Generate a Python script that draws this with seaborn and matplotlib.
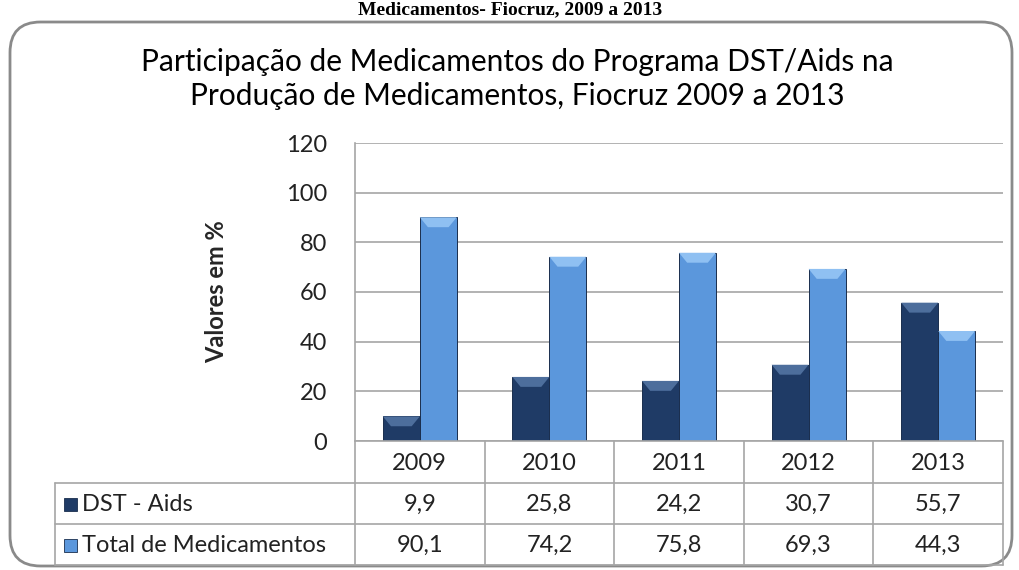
import matplotlib
matplotlib.use("Agg")
import matplotlib.pyplot as plt
from matplotlib.patches import FancyBboxPatch, Rectangle, Polygon
import seaborn as sns
import pandas as pd

years = ["2009", "2010", "2011", "2012", "2013"]
series_names = ["DST - Aids", "Total de Medicamentos"]
dst_aids = [9.9, 25.8, 24.2, 30.7, 55.7]
total_med = [90.1, 74.2, 75.8, 69.3, 44.3]
dst_labels = ["9,9", "25,8", "24,2", "30,7", "55,7"]
total_labels = ["90,1", "74,2", "75,8", "69,3", "44,3"]
yticks = [0, 20, 40, 60, 80, 100, 120]

title_text = "Participação de Medicamentos do Programa DST/Aids na\nProdução de Medicamentos, Fiocruz 2009 a 2013"
cut_title = "Medicamentos- Fiocruz, 2009 a 2013"
ylabel_text = "Valores em %"

colors = ["#1f3b66", "#5b97dc"]
FONT = "Lato"

sns.set_theme(style="white")
plt.rcParams["font.family"] = [FONT, "DejaVu Sans"]

W, H = 1019, 570
fig = plt.figure(figsize=(W / 100, H / 100), dpi=100)
fig.patch.set_facecolor("white")

# rounded frame
frame = FancyBboxPatch((10 / W, 4 / H), (1012 - 10) / W, (548 - 4) / H,
                       boxstyle="round,pad=0,rounding_size=0.03",
                       transform=fig.transFigure, facecolor="none",
                       edgecolor="#8a8a8a", linewidth=2, zorder=-1,
                       mutation_aspect=W / H)
fig.patches.append(frame)

# caption above the frame
fig.text(510 / W, 1 - 14 / H, cut_title, ha="center", va="baseline",
         family="Liberation Serif", fontweight="bold", fontsize=14, color="black")

# title
fig.text(517 / W, 1 - 79 / H, title_text, ha="center", va="center",
         fontsize=21.5, color="black", linespacing=1.3)

# main axes
x0, x1, ytop, ybot = 355, 1003, 143, 441
ax = fig.add_axes([x0 / W, 1 - ybot / H, (x1 - x0) / W, (ybot - ytop) / H])

df = pd.DataFrame({
    "year": years * 2,
    "value": dst_aids + total_med,
    "series": [series_names[0]] * 5 + [series_names[1]] * 5,
})
sns.barplot(data=df, x="year", y="value", hue="series", palette=colors,
            width=0.57, ax=ax, legend=False, edgecolor="#1a2e4d",
            linewidth=0.7, saturation=1, zorder=3)
ax.set_xlim(-0.5, 4.5)
ax.set_ylim(0, 120)
ax.set_yticks(yticks)
ax.set_yticklabels([str(t) for t in yticks], fontsize=17, color="#222222")
ax.tick_params(axis="y", length=0, pad=20)
ax.set_xticks([])
ax.set_xlabel("")
ax.set_ylabel(ylabel_text, fontsize=17, fontweight="bold", labelpad=42)
ax.yaxis.grid(True, color="#a6a6a6", linewidth=1.2, zorder=0)
ax.set_axisbelow(True)
for s in ["top", "right", "bottom"]:
    ax.spines[s].set_visible(False)
ax.spines["left"].set_color("#a6a6a6")
ax.spines["left"].set_linewidth(1.2)

# bar bevel highlights on top (trapezoid)
for patch in list(ax.patches):
    if patch.get_height() <= 0:
        continue
    bx, bw, bh = patch.get_x(), patch.get_width(), patch.get_height()
    is_light = patch.get_facecolor()[2] > 0.6
    light = "#8fc0f2" if is_light else "#4d6e9c"
    bev = min(4.0, bh * 0.4)
    inset = bw * 0.22
    ax.add_patch(Polygon([(bx, bh), (bx + bw, bh), (bx + bw - inset, bh - bev),
                          (bx + inset, bh - bev)], closed=True,
                         facecolor=light, edgecolor="none", zorder=4))

# table drawn under the axes
tx0 = 55
row_y = [441, 483, 524, 565]
tab = fig.add_axes([0, 0, 1, 1], facecolor="none")
tab.set_xlim(0, W)
tab.set_ylim(H, 0)
tab.axis("off")
line_kw = dict(color="#a6a6a6", linewidth=1.2)
edges_disp = [ax.transData.transform((i - 0.5, 0))[0] for i in range(len(years) + 1)]
edges = [tab.transData.inverted().transform((e, 0))[0] for e in edges_disp]
centers = [(edges[i] + edges[i + 1]) / 2 for i in range(len(years))]
tab.plot([edges[0], edges[-1]], [row_y[0]] * 2, **line_kw)
for yy in row_y[1:]:
    tab.plot([tx0, edges[-1]], [yy, yy], **line_kw)
for e in edges:
    tab.plot([e, e], [row_y[0], row_y[-1]], **line_kw)
tab.plot([tx0, tx0], [row_y[1], row_y[-1]], **line_kw)

def midy(r):
    return (row_y[r] + row_y[r + 1]) / 2 + 1

for i, c in enumerate(centers):
    tab.text(c, midy(0), years[i], ha="center", va="center", fontsize=17, color="#222222")
    tab.text(c, midy(1), dst_labels[i], ha="center", va="center", fontsize=17, color="#222222")
    tab.text(c, midy(2), total_labels[i], ha="center", va="center", fontsize=17, color="#222222")

for r, (name, col) in enumerate(zip(series_names, colors), start=1):
    tab.add_patch(Rectangle((64, midy(r) - 7), 13, 13, facecolor=col,
                            edgecolor="#1a2e4d", linewidth=0.6))
    tab.text(82, midy(r), name, ha="left", va="center", fontsize=17, color="#222222")

fig.savefig("out.png", dpi=100)
